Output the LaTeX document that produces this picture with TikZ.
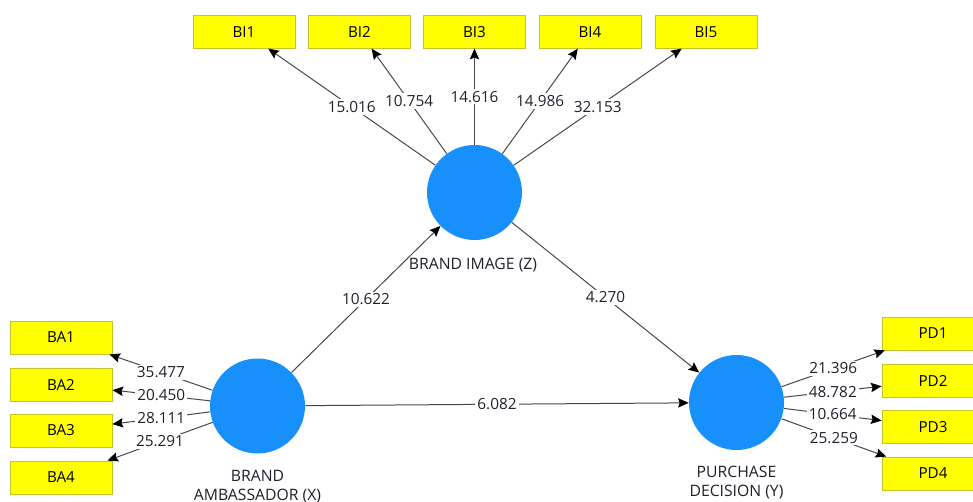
\documentclass[tikz,border=0pt]{standalone}
\usepackage{fontspec}
\setmainfont{Open Sans}
\usetikzlibrary{arrows.meta}

\definecolor{latentfill}{RGB}{24,144,252}
\definecolor{boxfill}{RGB}{255,255,0}
\definecolor{boxline}{RGB}{196,196,40}
\definecolor{linegray}{RGB}{72,72,72}
\definecolor{labeltext}{RGB}{32,32,44}

\begin{document}
\begin{tikzpicture}[x=0.75pt,y=-0.75pt,
  latentvar/.style={circle,fill=latentfill,minimum size=71.25pt,inner sep=0pt},
  indicator/.style={draw=boxline,line width=0.6pt,fill=boxfill,minimum width=76.5pt,
    minimum height=24.75pt,inner sep=0pt,font=\fontsize{11.4}{13}\selectfont,text=black},
  relation/.style={draw=linegray,line width=0.75pt,
    -{Stealth[length=8pt,width=7pt,inset=1.2pt,color=black]}},
  coef/.style={fill=white,inner sep=1.5pt,font=\fontsize{11.5}{13}\selectfont,text=labeltext},
  lvname/.style={font=\fontsize{11.8}{14.25}\selectfont,text=labeltext,align=center,inner sep=0pt}]
\useasboundingbox (0,0) rectangle (973,502);

% latent variables
\node[latentvar] (BI) at (474.5,192.5) {};
\node[latentvar] (BA) at (257.5,406) {};
\node[latentvar] (PD) at (736.5,402.5) {};

\node[lvname] (BIname) at (473,265) {BRAND IMAGE (Z)};
\node[lvname] (BAname) at (257.5,486.5) {BRAND\\AMBASSADOR (X)};
\node[lvname] (PDname) at (736.5,483) {PURCHASE\\DECISION (Y)};

% indicators of brand image
\node[indicator] (BI1) at (244,31.7) {BI1};
\node[indicator] (BI2) at (359.5,31.7) {BI2};
\node[indicator] (BI3) at (474.5,31.7) {BI3};
\node[indicator] (BI4) at (590,31.7) {BI4};
\node[indicator] (BI5) at (706,31.7) {BI5};

% indicators of brand ambassador
\node[indicator] (BA1) at (61,337.5) {BA1};
\node[indicator] (BA2) at (61,384.5) {BA2};
\node[indicator] (BA3) at (61,430.5) {BA3};
\node[indicator] (BA4) at (61,477.5) {BA4};

% indicators of purchase decision
\node[indicator] (PD1) at (933,333.5) {PD1};
\node[indicator] (PD2) at (933,380.5) {PD2};
\node[indicator] (PD3) at (933,427) {PD3};
\node[indicator] (PD4) at (933,473.5) {PD4};

% outer loadings
\draw[relation] (BI) -- node[coef] {15.016} (BI1);
\draw[relation] (BI) -- node[coef] {10.754} (BI2);
\draw[relation] (BI) -- node[coef] {14.616} (BI3);
\draw[relation] (BI) -- node[coef] {14.986} (BI4);
\draw[relation] (BI) -- node[coef] {32.153} (BI5);

\draw[relation] (BA) -- node[coef] {35.477} (BA1);
\draw[relation] (BA) -- node[coef] {20.450} (BA2);
\draw[relation] (BA) -- node[coef] {28.111} (BA3);
\draw[relation] (BA) -- node[coef] {25.291} (BA4);

\draw[relation] (PD) -- node[coef] {21.396} (PD1);
\draw[relation] (PD) -- node[coef] {48.782} (PD2);
\draw[relation] (PD) -- node[coef] {10.664} (PD3);
\draw[relation] (PD) -- node[coef] {25.259} (PD4);

% structural paths
\draw[relation] (BA) -- node[coef] {10.622} (BI);
\draw[relation] (BI) -- node[coef] {4.270} (PD);
\draw[relation] (BA) -- node[coef] {6.082} (PD);
\end{tikzpicture}
\end{document}
